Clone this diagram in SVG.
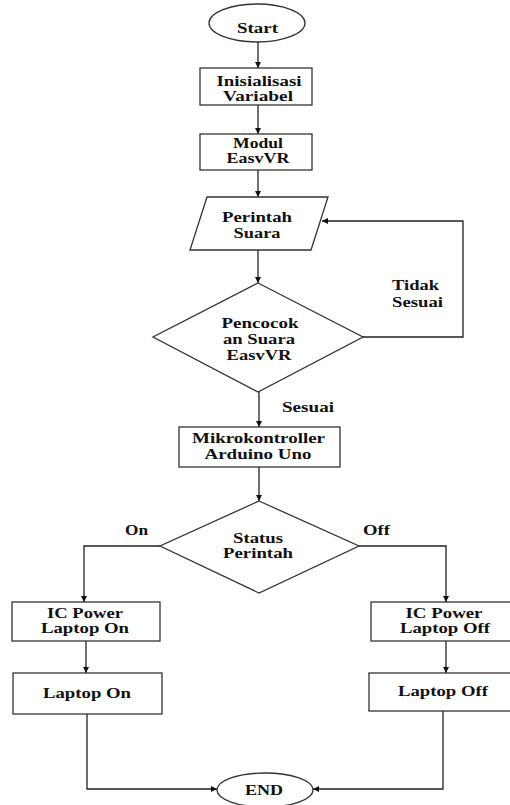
<svg xmlns="http://www.w3.org/2000/svg" width="510" height="805" viewBox="0 0 510 805">
<defs>
<marker id="ah" viewBox="0 0 10 10" refX="10" refY="5" markerWidth="6" markerHeight="6" markerUnits="userSpaceOnUse" orient="auto">
<path d="M0,0 L10,5 L0,10 z" fill="#111"/>
</marker>
<style>
.s{fill:#fff;stroke:#333;stroke-width:1.3}
.c{fill:none;stroke:#222;stroke-width:1.3}
.t{font-family:"Liberation Serif","Times New Roman",serif;font-weight:bold;font-size:15px;fill:#111;text-anchor:middle}
.l{font-family:"Liberation Serif","Times New Roman",serif;font-weight:bold;font-size:15px;fill:#111}
</style>
</defs>
<rect width="510" height="805" fill="#fff"/>
<g id="connectors">
<line class="c" x1="258" y1="42" x2="258" y2="68" marker-end="url(#ah)"/>
<line class="c" x1="258" y1="105" x2="258" y2="134" marker-end="url(#ah)"/>
<line class="c" x1="258" y1="170" x2="258" y2="197" marker-end="url(#ah)"/>
<line class="c" x1="258" y1="250" x2="258" y2="283" marker-end="url(#ah)"/>
<polyline class="c" points="363,337 463,337 463,221 322,221" marker-end="url(#ah)"/>
<line class="c" x1="259" y1="392" x2="259" y2="427" marker-end="url(#ah)"/>
<line class="c" x1="259" y1="467" x2="259" y2="501" marker-end="url(#ah)"/>
<polyline class="c" points="160,546 84,546 84,602" marker-end="url(#ah)"/>
<polyline class="c" points="359,546 446,546 446,602" marker-end="url(#ah)"/>
<line class="c" x1="86" y1="641" x2="86" y2="673" marker-end="url(#ah)"/>
<line class="c" x1="446" y1="641" x2="446" y2="673" marker-end="url(#ah)"/>
<polyline class="c" points="87,714 87,789 217,789" marker-end="url(#ah)"/>
<polyline class="c" points="443,711 443,789 313,789" marker-end="url(#ah)"/>
<text class="l" x="392" y="290" textLength="47" lengthAdjust="spacingAndGlyphs">Tidak</text>
<text class="l" x="392" y="307" textLength="51" lengthAdjust="spacingAndGlyphs">Sesuai</text>
<text class="l" x="282" y="412" textLength="52" lengthAdjust="spacingAndGlyphs">Sesuai</text>
<text class="l" x="125" y="535" textLength="23" lengthAdjust="spacingAndGlyphs">On</text>
<text class="l" x="363" y="535" textLength="27" lengthAdjust="spacingAndGlyphs">Off</text>
</g>
<g id="start">
<ellipse class="s" cx="257" cy="23" rx="48" ry="19"/>
<text class="t" x="257.5" y="33" textLength="41" lengthAdjust="spacingAndGlyphs">Start</text>
</g>
<g id="init">
<rect class="s" x="200" y="68" width="112" height="37"/>
<text class="t" x="259" y="86" textLength="85" lengthAdjust="spacingAndGlyphs">Inisialisasi</text>
<text class="t" x="258" y="101" textLength="70" lengthAdjust="spacingAndGlyphs">Variabel</text>
</g>
<g id="modul">
<rect class="s" x="200" y="134" width="112" height="36"/>
<text class="t" x="258" y="148" textLength="50" lengthAdjust="spacingAndGlyphs">Modul</text>
<text class="t" x="258" y="163" textLength="63" lengthAdjust="spacingAndGlyphs">EasvVR</text>
</g>
<g id="perintah">
<polygon class="s" points="207,197 328,197 311,250 190,250"/>
<text class="t" x="257" y="222" textLength="70" lengthAdjust="spacingAndGlyphs">Perintah</text>
<text class="t" x="257" y="238" textLength="47" lengthAdjust="spacingAndGlyphs">Suara</text>
</g>
<g id="pencocokan">
<polygon class="s" points="258,283 363,337 258,392 153,337"/>
<text class="t" x="260" y="328" textLength="77" lengthAdjust="spacingAndGlyphs">Pencocok</text>
<text class="t" x="259" y="344" textLength="72" lengthAdjust="spacingAndGlyphs">an Suara</text>
<text class="t" x="259" y="360" textLength="65" lengthAdjust="spacingAndGlyphs">EasvVR</text>
</g>
<g id="mikro">
<rect class="s" x="179" y="427" width="161" height="40"/>
<text class="t" x="258.5" y="443" textLength="133" lengthAdjust="spacingAndGlyphs">Mikrokontroller</text>
<text class="t" x="258" y="459" textLength="107" lengthAdjust="spacingAndGlyphs">Arduino Uno</text>
</g>
<g id="status">
<polygon class="s" points="259,501 359,546 259,593 160,546"/>
<text class="t" x="258" y="543" textLength="50" lengthAdjust="spacingAndGlyphs">Status</text>
<text class="t" x="258" y="558" textLength="70" lengthAdjust="spacingAndGlyphs">Perintah</text>
</g>
<g id="icon">
<rect class="s" x="12" y="602" width="148" height="39"/>
<text class="t" x="85" y="618" textLength="76" lengthAdjust="spacingAndGlyphs">IC Power</text>
<text class="t" x="85" y="633" textLength="88" lengthAdjust="spacingAndGlyphs">Laptop On</text>
</g>
<g id="laptopon">
<rect class="s" x="13" y="673" width="149" height="41"/>
<text class="t" x="87" y="698" textLength="88" lengthAdjust="spacingAndGlyphs">Laptop On</text>
</g>
<g id="icoff">
<rect class="s" x="371" y="602" width="150" height="39"/>
<text class="t" x="444" y="618" textLength="77" lengthAdjust="spacingAndGlyphs">IC Power</text>
<text class="t" x="445" y="633" textLength="90" lengthAdjust="spacingAndGlyphs">Laptop Off</text>
</g>
<g id="laptopoff">
<rect class="s" x="369" y="673" width="152" height="38"/>
<text class="t" x="443" y="696" textLength="90" lengthAdjust="spacingAndGlyphs">Laptop Off</text>
</g>
<g id="end">
<ellipse class="s" cx="265" cy="790" rx="48" ry="17"/>
<text class="t" x="264" y="795" textLength="38" lengthAdjust="spacingAndGlyphs">END</text>
</g>
</svg>
